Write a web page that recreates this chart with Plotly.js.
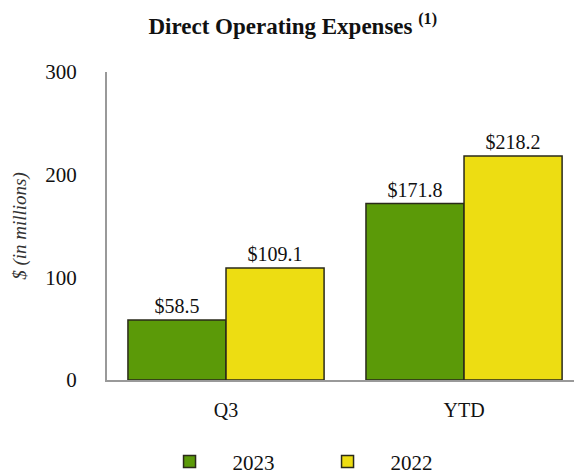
<!DOCTYPE html>
<html><head><meta charset="utf-8">
<script src="https://cdn.plot.ly/plotly-3.0.1.min.js"></script>
<style>html,body{margin:0;padding:0;background:#fff}#chart{width:574px;height:473px}</style>
</head><body><div id="chart"></div>
<script>
const categories = ["Q3", "YTD"];
const values2023 = [58.5, 171.8];
const values2022 = [109.1, 218.2];
const seriesNames = ["2023", "2022"];
const yTicks = [0, 100, 200, 300];

const font = "Liberation Serif";
const fmt = v => "$" + v.toFixed(1);
const labelFont = {family: font, size: 20, color: "#111"};

const traces = [
  {type: "bar", name: seriesNames[0], x: categories, y: values2023,
   text: values2023.map(fmt), textposition: "outside",
   textfont: labelFont, outsidetextfont: labelFont,
   marker: {color: "#5b9a08", line: {color: "#2a2a1a", width: 1.5}}},
  {type: "bar", name: seriesNames[1], x: categories, y: values2022,
   text: values2022.map(fmt), textposition: "outside",
   textfont: labelFont, outsidetextfont: labelFont,
   marker: {color: "#eddd12", line: {color: "#2a2a1a", width: 1.5}}}
];

const layout = {
  width: 574, height: 473,
  margin: {l: 107, r: 0, t: 72, b: 93, autoexpand: false},
  paper_bgcolor: "#fff", plot_bgcolor: "#fff",
  font: {family: font, size: 20, color: "#111"},
  title: {text: "<b>Direct Operating Expenses <sup>(1)</sup></b>", x: 0.51, xanchor: "center", y: 0.945, yanchor: "middle",
          font: {family: font, size: 23, color: "#111"}},
  barmode: "group", bargap: 0.176, bargroupgap: 0,
  xaxis: {range: [-0.5, 1.462], showline: true, linecolor: "#999", linewidth: 2, showgrid: false, zeroline: false,
          ticks: "", ticklabelstandoff: 11, tickfont: {family: font, size: 20, color: "#111"}, fixedrange: true},
  yaxis: {range: [0, 300], tickvals: yTicks, showline: true, linecolor: "#999", linewidth: 2, showgrid: false, zeroline: false,
          ticks: "", ticklabelstandoff: 24, tickfont: {family: font, size: 21, color: "#111"}, fixedrange: true,
          title: {text: "$ (in millions)", standoff: 14, font: {family: font, size: 19, color: "#333", style: "italic"}}},
  legend: {orientation: "h", x: 0.423, xanchor: "center", y: -0.266, yanchor: "middle",
           font: {family: font, size: 21, color: "#111"}, itemwidth: 76, entrywidth: 67, traceorder: "normal"},
  showlegend: true
};
Plotly.newPlot("chart", traces, layout, {displayModeBar: false});
</script></body></html>
